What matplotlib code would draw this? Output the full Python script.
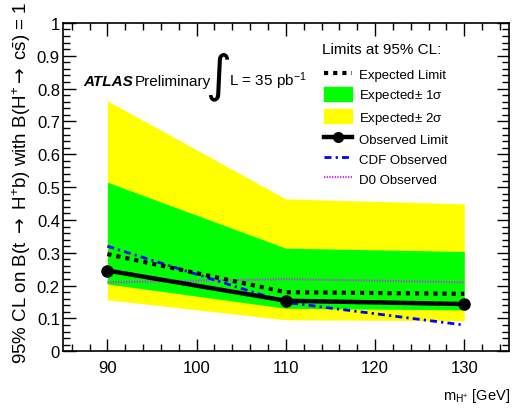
import matplotlib
matplotlib.use("Agg")
import matplotlib.pyplot as plt
from matplotlib.lines import Line2D
from matplotlib.patches import Patch
from matplotlib.ticker import MultipleLocator

plt.rcParams.update({
    "font.family": ["Liberation Sans", "DejaVu Sans"],
    "mathtext.fontset": "custom",
    "mathtext.rm": "Liberation Sans",
    "mathtext.it": "Liberation Sans:italic",
    "mathtext.sf": "DejaVu Sans",
    "mathtext.default": "regular",
})

# data
mass = [90, 110, 130]
exp_limit = [0.296, 0.180, 0.175]
band1_lo = [0.205, 0.131, 0.126]
band1_hi = [0.515, 0.314, 0.304]
band2_lo = [0.157, 0.096, 0.093]
band2_hi = [0.763, 0.464, 0.449]
obs_limit = [0.246, 0.154, 0.144]
cdf_obs = [0.320, 0.149, 0.080]
d0_obs = [0.210, 0.220, 0.210]

W, H = 523, 410
fig = plt.figure(figsize=(W / 100, H / 100), dpi=100)
ax = fig.add_axes([0.12, 0.1407, 0.853, 0.801])

exp_style = dict(color="black", lw=3.0, ls=(0, (1, 1.2)))
cdf_style = dict(color="#0000ff", lw=2.0, ls=(0, (2.5, 1.5, 0.8, 1.5)))
d0_style = dict(color="#cc33ff", lw=1.6, ls=(0, (0.6, 0.6)))

ax.fill_between(mass, band2_lo, band2_hi, color="#ffff00", lw=0, zorder=1)
ax.fill_between(mass, band1_lo, band1_hi, color="#00ff00", lw=0, zorder=2)
ax.plot(mass, d0_obs, zorder=3, **d0_style)
ax.plot(mass, cdf_obs, zorder=4, **cdf_style)
ax.plot(mass, exp_limit, zorder=5, **exp_style)
ax.plot(mass, obs_limit, color="black", lw=3.2, marker="o", ms=8, zorder=6)

ax.set_xlim(85, 135)
ax.set_ylim(0, 1)
ax.xaxis.set_major_locator(MultipleLocator(10))
ax.xaxis.set_minor_locator(MultipleLocator(2))
ax.set_yticks([i / 10 for i in range(11)])
ax.set_yticklabels(["0", "0.1", "0.2", "0.3", "0.4", "0.5", "0.6", "0.7",
                    "0.8", "0.9", "1"], fontsize=12)
ax.yaxis.set_minor_locator(MultipleLocator(0.02))
ax.tick_params(which="both", direction="in", top=True, right=True, width=1)
ax.tick_params(which="major", length=9)
ax.tick_params(which="minor", length=5)
ax.tick_params(axis="x", labelsize=12, pad=6)
ax.tick_params(axis="y", pad=2)
for s in ax.spines.values():
    s.set_linewidth(1.2)

fig.text(0.041, 0.997,
         r"95% CL on B(t $\mathsf{\rightarrow}$ H$^{+}$b) with B(H$^{+}$$\mathsf{\rightarrow}$ c$\bar{s}$) = 1",
         rotation=90, ha="center", va="top", fontsize=13.5)
fig.text(0.975, 0.033, r"m$_{H^{+}}$ [GeV]", ha="right", va="center", fontsize=10.5)

base = 1 - 86 / H
fig.text(83 / W, base, "ATLAS", fontsize=11, fontweight="bold",
         fontstyle="italic", va="baseline")
fig.text(135 / W, base, "Preliminary", fontsize=11, va="baseline")
fig.text(218 / W, 1 - 77 / H, "∫", fontsize=36, family="DejaVu Sans",
         va="center", ha="center")
fig.text(229 / W, base, r"L = 35 pb$^{-1}$", fontsize=11, va="baseline")

fig.text(322 / W, 1 - 50 / H, "Limits at 95% CL:", fontsize=11,
         va="center", ha="left")

handles = [
    Line2D([], [], **exp_style),
    Patch(color="#00ff00"),
    Patch(color="#ffff00"),
    Line2D([], [], color="black", lw=3.2, marker="o", ms=7),
    Line2D([], [], **cdf_style),
    Line2D([], [], **d0_style),
]
labels = ["Expected Limit", r"Expected$\pm$ 1$\sigma$", r"Expected$\pm$ 2$\sigma$",
          "Observed Limit", "CDF Observed", "D0 Observed"]
leg = ax.legend(handles, labels, loc="upper left",
                bbox_to_anchor=(324 / W, 1 - 68 / H), bbox_transform=fig.transFigure,
                frameon=False, fontsize=9.5, handlelength=2.1, handleheight=1.2,
                labelspacing=0.45, handletextpad=0.55, borderpad=0,
                borderaxespad=0)

fig.savefig("out.png", dpi=100)
